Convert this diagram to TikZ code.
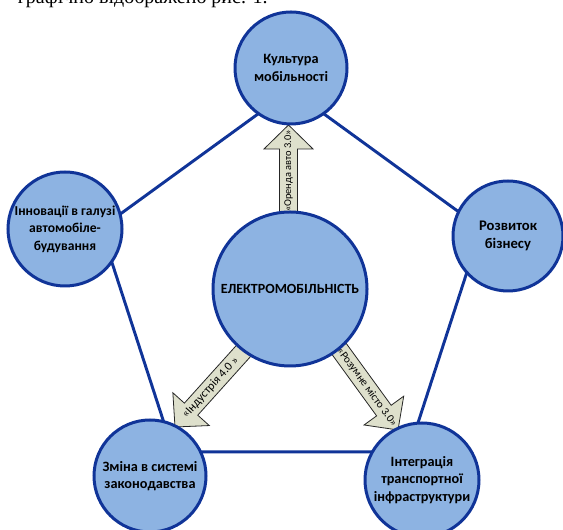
\documentclass[tikz,border=0pt]{standalone}
\usepackage{fontspec}
\setmainfont{Carlito}
\newfontfamily\serifbody{Liberation Serif}
\definecolor{cfill}{RGB}{141,179,226}
\definecolor{cline}{RGB}{16,52,152}
\definecolor{afill}{RGB}{222,224,204}
\tikzset{
  topic/.style={circle, draw=cline, line width=2.25pt, fill=cfill, inner sep=0pt, align=center,
    font=\bfseries\fontsize{10.7}{13}\selectfont},
  edge/.style={draw=cline, line width=2.2pt},
  blockarrow/.style={fill=afill, draw=black!85, line width=0.6pt, line join=miter},
  arrowlabel/.style={inner sep=0pt, font=\fontsize{7.8}{9}\selectfont},
}
\newcommand\myblockarrow[7]{%
  % #1 tip coordinate, #2 direction, #3 length, #4 label, #5 label rotation, #6 label distance, #7 label size
  \begin{scope}[shift={(#1)}, rotate=#2]
    \draw[blockarrow] (0,0) -- (-24,24.5) -- (-24,9) -- (-#3,9) -- (-#3,-9) -- (-24,-9) -- (-24,-24.5) -- cycle;
    \node[arrowlabel, rotate=#5, font=\fontsize{#7}{9}\selectfont] at (-#6,0) {#4};
  \end{scope}}
\begin{document}
\begin{tikzpicture}[x=0.75pt,y=0.75pt]
\clip (0,0) rectangle (563,530);
\node[anchor=base east, font=\serifbody\fontsize{15}{18}\selectfont, inner sep=0pt] (caption) at (268,526.5) {графічно відображено рис. 1.};

% pentagon
\coordinate (pA) at (291,440);
\coordinate (pL) at (100.8,301.8);
\coordinate (pR) at (481.2,301.8);
\coordinate (pBL) at (173.4,78.2);
\coordinate (pBR) at (408.6,78.2);
\draw[edge] (pA) -- (pR) -- (pBR) -- (pBL) -- (pL) -- cycle;

% block arrows
\coordinate (tipUp) at (288.5,405);
\coordinate (tipBL) at (175,103);
\coordinate (tipBR) at (398,100);
\myblockarrow{tipUp}{90}{95}{«Оренда авто 3.0»}{90}{46}{7.8}
\myblockarrow{tipBL}{228}{110}{«Індустрія 4.0 »}{48}{53}{9}
\myblockarrow{tipBR}{-54}{108}{«Розумне місто 3.0»}{-54}{53}{8.3}

% circles
\node[topic, minimum size=84pt] (culture) at (291,462) {Культура\\мобільності};
\node[topic, minimum size=115.5pt, font=\bfseries\fontsize{10.5}{13}\selectfont] (emob) at (290,241) {ЕЛЕКТРОМОБІЛЬНІСТЬ};
\node[topic, minimum size=85.5pt, font=\bfseries\fontsize{10.2}{13}\selectfont] (innov) at (65,301) {Інновації в галузі\\автомобіле-\\будування};
\node[topic, minimum size=82.5pt, font=\bfseries\fontsize{11}{13}\selectfont] (business) at (508,294) {Розвиток\\бізнесу};
\node[topic, minimum size=84pt] (law) at (150,54) {Зміна в системі\\законодавства};
\node[topic, minimum size=85.5pt] (infra) at (422,50) {Інтеграція\\транспортної\\інфраструктури};
\end{tikzpicture}
\end{document}
